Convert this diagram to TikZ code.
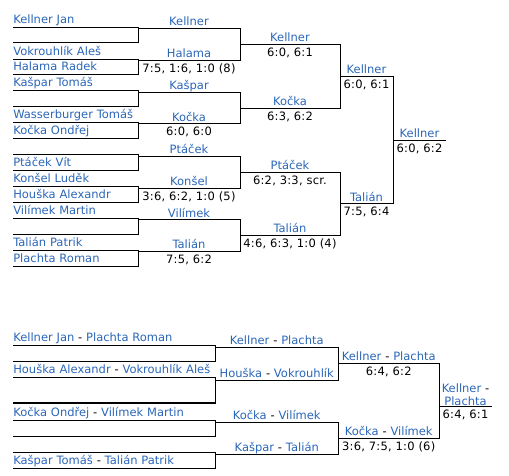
\documentclass[tikz,border=0pt]{standalone}
\usepackage{fontspec}
\setmainfont{DejaVu Sans}
\newfontfamily\scorefont[LetterSpace=2]{DejaVu Sans}
\usepackage{tikz}
\usetikzlibrary{positioning}
\definecolor{linkblue}{HTML}{2A66B8}
\newcommand{\namesize}{\fontsize{11.5}{12.4}\selectfont}
\tikzset{
  line/.style={draw=black, line width=1pt},
  thickline/.style={draw=black, line width=2pt},
  slot/.style={
    anchor=south west,
    inner sep=0pt, outer sep=0pt,
    text width=#1,
    align=left,
    text height=9pt, text depth=4pt,
    text=linkblue,
    font=\namesize
  },
  winner/.style={
    anchor=south west,
    inner sep=0pt, outer sep=0pt,
    text width=#1,
    align=center,
    text height=9pt, text depth=2.8pt,
    text=linkblue,
    font=\namesize
  },
  tallwinner/.style={
    anchor=south west,
    inner xsep=0pt, inner ysep=1.3pt, outer sep=0pt,
    text width=#1,
    align=center,
    text=linkblue,
    font=\namesize
  },
  score/.style={
    inner sep=0pt, outer sep=0pt,
    text height=12pt, text depth=3pt,
    font=\scorefont\fontsize{11.5}{12.4}\selectfont
  }
}

\begin{document}
\begin{tikzpicture}[x=1pt,y=-1pt]
  \path[use as bounding box] (0,0) rectangle (509,475);

  \node[slot=124.7pt] (jan) at (13.3,27) {Kellner Jan};
  \node[slot=124.7pt] (byeA) at (13.3,42.5) {};
  \node[slot=124.7pt] (ales) at (13.3,59) {Vokrouhlík Aleš};
  \node[slot=124.7pt] (radek) at (13.3,74.5) {Halama Radek};
  \node[slot=124.7pt] (tomasK) at (13.3,90.7) {Kašpar Tomáš};
  \node[slot=124.7pt] (byeB) at (13.3,106.3) {};
  \node[slot=124.7pt] (tomasW) at (13.3,122.3) {Wasserburger Tomáš};
  \node[slot=124.7pt] (ondrej) at (13.3,138) {Kočka Ondřej};
  \node[slot=124.7pt] (byeC) at (13.3,154.3) {};
  \node[slot=124.7pt] (vit) at (13.3,170) {Ptáček Vít};
  \node[slot=124.7pt] (ludek) at (13.3,186) {Konšel Luděk};
  \node[slot=124.7pt] (alexandr) at (13.3,202) {Houška Alexandr};
  \node[slot=124.7pt] (martin) at (13.3,218.3) {Vilímek Martin};
  \node[slot=124.7pt] (byeD) at (13.3,234.3) {};
  \node[slot=124.7pt] (patrik) at (13.3,250) {Talián Patrik};
  \node[slot=124.7pt] (roman) at (13.3,266) {Plachta Roman};

  \node[winner=102pt] (wKellner) at (138,28.5) {Kellner};
  \node[winner=102pt] (wHalama) at (138,60.5) {Halama};
  \node[winner=102pt] (wKaspar) at (138,92.2) {Kašpar};
  \node[winner=102pt] (wKocka) at (138,123.8) {Kočka};
  \node[winner=102pt] (wPtacek) at (138,156.3) {Ptáček};
  \node[winner=102pt] (wKonsel) at (138,188) {Konšel};
  \node[winner=102pt] (wVilimek) at (138,219.8) {Vilímek};
  \node[winner=102pt] (wTalian) at (138,251.5) {Talián};

  \node[winner=100pt] (qKellner) at (240,44.5) {Kellner};
  \node[winner=100pt] (qKocka) at (240,108) {Kočka};
  \node[winner=100pt] (qPtacek) at (240,172.2) {Ptáček};
  \node[winner=100pt] (qTalian) at (240,235.7) {Talián};

  \node[winner=53pt] (sKellner) at (340,76.3) {Kellner};
  \node[winner=53pt] (sTalian) at (340,203.9) {Talián};

  \node[winner=53pt] (fKellner) at (393,140.1) {Kellner};

  \node[score, below=0pt of wHalama] (scHalama) {7:5, 1:6, 1:0 (8)};
  \node[score, below=0pt of wKocka] (scKocka) {6:0, 6:0};
  \node[score, below=0pt of wKonsel] (scKonsel) {3:6, 6:2, 1:0 (5)};
  \node[score, below=0pt of wTalian] (scTalian) {7:5, 6:2};
  \node[score, below=0pt of qKellner] (sqKellner) {6:0, 6:1};
  \node[score, below=0pt of qKocka] (sqKocka) {6:3, 6:2};
  \node[score, below=0pt of qPtacek] (sqPtacek) {6:2, 3:3, scr.};
  \node[score, below=0pt of qTalian] (sqTalian) {4:6, 6:3, 1:0 (4)};
  \node[score, below=0pt of sKellner] (ssKellner) {6:0, 6:1};
  \node[score, below=0pt of sTalian] (ssTalian) {7:5, 6:4};
  \node[score, below=0pt of fKellner] (sfKellner) {6:0, 6:2};

  \draw[line] (jan.south west) -- (jan.south east) -- (byeA.south east) -- (byeA.south west);
  \draw[line] (ales.south west) -- (ales.south east) -- (radek.south east) -- (radek.south west);
  \draw[line] (tomasK.south west) -- (tomasK.south east) -- (byeB.south east) -- (byeB.south west);
  \draw[line] (tomasW.south west) -- (tomasW.south east) -- (ondrej.south east) -- (ondrej.south west);
  \draw[line] (byeC.south west) -- (byeC.south east) -- (vit.south east) -- (vit.south west);
  \draw[line] (ludek.south west) -- (ludek.south east) -- (alexandr.south east) -- (alexandr.south west);
  \draw[line] (martin.south west) -- (martin.south east) -- (byeD.south east) -- (byeD.south west);
  \draw[line] (patrik.south west) -- (patrik.south east) -- (roman.south east) -- (roman.south west);
  \draw[line] (wKellner.south west) -- (wKellner.south east) -- (wHalama.south east) -- (wHalama.south west);
  \draw[line] (wKaspar.south west) -- (wKaspar.south east) -- (wKocka.south east) -- (wKocka.south west);
  \draw[line] (wPtacek.south west) -- (wPtacek.south east) -- (wKonsel.south east) -- (wKonsel.south west);
  \draw[line] (wVilimek.south west) -- (wVilimek.south east) -- (wTalian.south east) -- (wTalian.south west);
  \draw[line] (qKellner.south west) -- (qKellner.south east) -- (qKocka.south east) -- (qKocka.south west);
  \draw[line] (qPtacek.south west) -- (qPtacek.south east) -- (qTalian.south east) -- (qTalian.south west);
  \draw[line] (sKellner.south west) -- (sKellner.south east) -- (sTalian.south east) -- (sTalian.south west);
  \draw[line] (fKellner.south west) -- (fKellner.south east);

  \node[slot=202.2pt] (dKellner) at (13.3,345.7) {Kellner Jan \textcolor{black}{-} Plachta Roman};
  \node[slot=202.2pt] (dByeA) at (13.3,361.7) {};
  \node[slot=202.2pt] (dHouska) at (13.3,377.5) {Houška Alexandr \textcolor{black}{-} Vokrouhlík Aleš};
  \node[slot=202.2pt] (dByeB) at (13.3,403.3) {};
  \node[slot=202.2pt] (dKocka) at (13.3,420) {Kočka Ondřej \textcolor{black}{-} Vilímek Martin};
  \node[slot=202.2pt] (dByeC) at (13.3,436) {};
  \node[slot=202.2pt] (dByeD) at (13.3,452.3) {};
  \node[slot=202.2pt] (dKaspar) at (13.3,468.3) {Kašpar Tomáš \textcolor{black}{-} Talián Patrik};

  \node[winner=122.5pt] (dwKellner) at (215.5,347) {Kellner \textcolor{black}{-} Plachta};
  \node[winner=122.5pt] (dwHouska) at (215.5,380) {Houška \textcolor{black}{-} Vokrouhlík};
  \node[winner=122.5pt] (dwKocka) at (215.5,422.3) {Kočka \textcolor{black}{-} Vilímek};
  \node[winner=122.5pt] (dwKaspar) at (215.5,454.3) {Kašpar \textcolor{black}{-} Talián};

  \node[winner=101.5pt] (dqKellner) at (338,363.5) {Kellner \textcolor{black}{-} Plachta};
  \node[winner=101.5pt] (dqKocka) at (338,438.3) {Kočka \textcolor{black}{-} Vilímek};

  \node[tallwinner=52pt] (dfKellner) at (439.5,406.7) {Kellner \textcolor{black}{-}\\Plachta};

  \node[score, below=0pt of dqKellner] (sdqKellner) {6:4, 6:2};
  \node[score, below=0pt of dqKocka] (sdqKocka) {3:6, 7:5, 1:0 (6)};
  \node[score, below=0pt of dfKellner] (sdfKellner) {6:4, 6:1};

  \draw[line] (dKellner.south west) -- (dKellner.south east) -- (dByeA.south east) -- (dByeA.south west);
  \draw[line] (dHouska.south west) -- (dHouska.south east) -- (dByeB.south east);
  \draw[thickline] (dByeB.south east) -- (dByeB.south west);
  \draw[line] (dKocka.south west) -- (dKocka.south east) -- (dByeC.south east) -- (dByeC.south west);
  \draw[line] (dByeD.south west) -- (dByeD.south east) -- (dKaspar.south east) -- (dKaspar.south west);
  \draw[line] (dwKellner.south west) -- (dwKellner.south east) -- (dwHouska.south east) -- (dwHouska.south west);
  \draw[line] (dwKocka.south west) -- (dwKocka.south east) -- (dwKaspar.south east) -- (dwKaspar.south west);
  \draw[line] (dqKellner.south west) -- (dqKellner.south east) -- (dqKocka.south east) -- (dqKocka.south west);
  \draw[line] (dfKellner.south west) -- (dfKellner.south east);
\end{tikzpicture}
\end{document}
